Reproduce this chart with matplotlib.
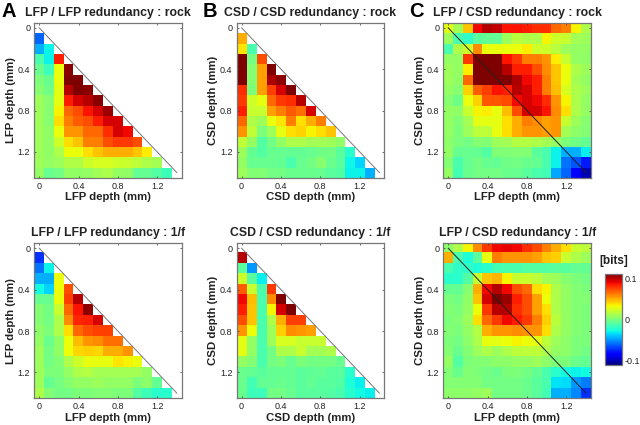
import numpy as np
import matplotlib
matplotlib.use('Agg')
import matplotlib.pyplot as plt

plt.rcParams['font.family'] = ['Liberation Sans', 'DejaVu Sans']

# redundancy per depth pair, in colour-scale units (100 = top colour of the bar)
lfp_lfp_rock = [
    [],
    [-55],
    [-40, -27],
    [-12, -27, 75],
    [-5, -15, 27, 98],
    [0, -5, 27, 100, 100],
    [3, -3, 25, 90, 100, 98],
    [8, 3, 25, 75, 85, 90, 98],
    [8, 3, 30, 60, 65, 78, 85, 95],
    [8, 3, 35, 55, 62, 65, 75, 85, 85],
    [8, 5, 27, 50, 50, 60, 60, 72, 85, 80],
    [8, 5, 20, 35, 40, 55, 55, 65, 70, 70, 65],
    [8, 5, 12, 28, 27, 35, 40, 45, 45, 45, 40, 32],
    [8, 6, 8, 13, 13, 20, 22, 22, 20, 18, 16, 12, 10],
    [6, -5, -2, 6, 5, 6, 10, 12, 6, 5, -6, -6, -10, -15],
]
csd_csd_rock = [
    [],
    [45],
    [33, -12],
    [100, -1, 65],
    [100, 3, 48, 100],
    [100, 3, 48, 92, 97],
    [72, 0, 48, 68, 85, 100],
    [70, 20, 26, 60, 70, 72, 90],
    [75, 18, 18, 48, 55, 63, 58, 85],
    [60, 12, 8, 27, 33, 55, 35, 45, 55],
    [50, 17, 0, 8, 25, 35, 37, 30, 35, 40],
    [17, 7, -10, -2, 6, 12, 12, 10, 10, 8, 5],
    [8, -6, -10, -5, -5, -6, -6, -5, -3, -2, -8, -20],
    [6, -5, -5, -5, -6, -12, -5, -2, 3, -4, -8, -26, -33],
    [8, 2, 2, -2, -2, -4, -4, -4, -5, -8, -10, -27, -27, -40],
]
lfp_csd_rock = [
    [25, 10, 40, 80, 90, 88, 78, 78, 75, 72, 72, 60, 55, 30, 12],
    [8, -12, -18, -8, -6, -6, 8, 15, 12, 12, 30, 20, 18, 10, 8],
    [-12, 12, 20, 52, 27, 27, 27, 27, 32, 20, 20, 15, 8, 6, 6],
    [6, 6, 70, 100, 100, 100, 78, 70, 55, 55, 50, 32, 18, 6, 5],
    [8, 6, 32, 100, 100, 100, 90, 75, 75, 65, 52, 40, 27, 12, 8],
    [8, 5, 60, 100, 100, 100, 100, 92, 80, 75, 55, 40, 27, 10, 6],
    [6, 3, 37, 62, 68, 78, 75, 90, 85, 75, 55, 42, 22, 12, 8],
    [3, -3, 27, 37, 64, 64, 66, 80, 85, 80, 72, 50, 30, 12, 6],
    [6, 5, 18, 30, 32, 26, 42, 65, 85, 85, 78, 52, 35, 12, 6],
    [6, 2, 10, 25, 25, 25, 35, 45, 55, 52, 48, 50, 18, 8, 3],
    [6, 0, 8, 16, 16, 26, 35, 45, 50, 50, 48, 50, 10, 4, 2],
    [4, 0, -2, 3, 2, 8, 10, 14, 14, 12, 10, 6, 0, -3, -6],
    [6, -5, -5, -6, -10, 1, 1, 2, 2, -8, -12, -27, -40, -40, -28],
    [2, -12, -5, -2, -5, -6, -3, -2, -4, -6, -12, -27, -52, -58, -70],
    [6, -14, -4, -2, -2, -2, -4, -5, -8, -12, -14, -42, -55, -75, -90],
]
lfp_lfp_1f = [
    [],
    [-65],
    [-52, -27],
    [-40, -40, 28],
    [-25, -33, 28, 65],
    [-5, -5, 27, 68, 90],
    [2, -2, 18, 60, 78, 97],
    [2, -2, 12, 52, 74, 75, 85],
    [4, 0, 12, 35, 60, 65, 68, 68],
    [6, -4, 5, 28, 42, 50, 52, 58, 58],
    [8, -2, 5, 28, 36, 38, 36, 45, 45, 50],
    [8, -2, 2, 12, 20, 26, 26, 26, 33, 30, 27],
    [8, 0, 0, 6, 12, 14, 10, 10, 10, 10, 10, 6],
    [8, -6, -1, 3, 6, 6, 8, 6, 6, 6, 0, 4, -6],
    [12, 2, -2, -2, 0, 0, 2, 2, 0, 0, -10, -15, -20, -20],
]
csd_csd_1f = [
    [],
    [90],
    [-8, -45],
    [20, -8, -28],
    [62, 18, -12, 70],
    [80, 42, -12, 52, 100],
    [75, 40, -12, 30, 85, 100],
    [65, 40, -12, 12, 45, 68, 68],
    [50, 28, -12, 8, 38, 52, 50, 48],
    [25, 6, -12, 8, 22, 22, 18, 18, 18],
    [25, 6, -12, -2, 12, 12, 18, 10, 10, 12],
    [6, 2, -12, -2, 0, -5, 0, -2, -2, -2, -5],
    [-4, -6, -8, -6, -6, -6, -8, -7, -6, -8, -8, -20],
    [-4, -14, -6, -6, -4, -6, -8, -6, -8, -8, -10, -22, -28],
    [-4, -15, -15, -2, -2, -5, -8, -8, -8, -10, -12, -20, -25, -28],
]
lfp_csd_1f = [
    [4, 12, 30, 52, 70, 80, 82, 80, 72, 66, 55, 45, 35, 18, 16],
    [45, -12, -22, -8, 26, 55, 50, 50, 50, 48, 40, 38, 18, 12, 8],
    [-12, -18, -18, -22, -20, -14, -12, -12, -10, -10, -10, -8, -8, -6, -6],
    [-20, -20, -10, 18, 40, 43, 30, 18, 18, 16, 10, 8, 3, 0, -2],
    [-6, -6, 3, 45, 80, 90, 80, 65, 60, 35, 30, 12, 6, 2, 0],
    [0, -2, 5, 40, 85, 100, 95, 75, 65, 48, 28, 12, 6, 2, 2],
    [2, 0, 6, 28, 70, 90, 90, 72, 65, 48, 35, 12, 6, 2, 0],
    [0, 2, 8, 35, 60, 70, 80, 76, 70, 55, 38, 15, 6, 2, 0],
    [2, 0, 6, 14, 45, 50, 50, 52, 50, 50, 35, 12, 6, 2, 0],
    [0, -2, 4, 12, 26, 25, 28, 30, 28, 25, 16, 8, 4, 0, 0],
    [2, -4, 2, 8, 12, 8, 12, 16, 16, 16, 12, 6, 4, 0, -2],
    [6, -10, 0, 2, 2, 4, 4, 6, 6, 8, 4, 0, 0, -4, -6],
    [2, -4, 2, 0, -2, -4, 0, 0, -2, -6, -12, -20, -25, -27, -25],
    [2, 2, 2, 2, -2, -2, -2, -2, -4, -8, -12, -30, -32, -45, -50],
    [4, 4, 4, 6, 8, -2, -2, -2, -4, -8, -14, -40, -40, -48, -65],
]

depth_ticks = [0, 0.4, 0.8, 1.2]
depth_labels = ['0', '0.4', '0.8', '1.2']
cbar_ticks = [-0.1, 0, 0.1]
cbar_labels = ['-0.1', '0', '0.1']
vmax = 0.112
W, H = 640.0, 425.0
EDGE = '#777777'
TXT = '#222222'


def to_matrix(rows):
    m = np.full((15, 15), np.nan)
    for i, r in enumerate(rows):
        m[i, :len(r)] = r
    # table is read against a scale where 100 is the top colour
    return np.ma.masked_invalid(m * vmax / 100.0)


def panel(box, rows, title, xlab, ylab, diag_color):
    x0, y0, x1, y1 = box
    ax = fig.add_axes([x0 / W, 1 - y1 / H, (x1 - x0) / W, (y1 - y0) / H])
    im = ax.imshow(to_matrix(rows), cmap='jet', vmin=-vmax, vmax=vmax, aspect='auto',
                   extent=[-0.05, 1.45, 1.45, -0.05], interpolation='nearest')
    ax.plot([0, 1.4], [0, 1.4], color=diag_color, lw=0.7)
    ax.set_xlim(-0.05, 1.45)
    ax.set_ylim(1.45, -0.05)
    ax.set_xticks(depth_ticks, depth_labels)
    ax.set_yticks(depth_ticks, depth_labels)
    ax.tick_params(direction='in', length=1.5, width=0.5, color='#333333', labelsize=6.5,
                   labelcolor=TXT, pad=3, top=True, right=True)
    for s in ax.spines.values():
        s.set_color(EDGE)
        s.set_linewidth(0.9)
    ax.set_xlabel(xlab, fontsize=8.2, fontweight='bold', color=TXT)
    ax.set_ylabel(ylab, fontsize=8.2, fontweight='bold', color=TXT)
    ax.xaxis.set_label_coords(0.5, -0.095)
    ax.yaxis.set_label_coords(-0.125, 0.5)
    ax.set_title(title, fontsize=8.8, fontweight='bold', color=TXT, pad=5)
    return im


fig = plt.figure(figsize=(6.4, 4.25), dpi=100)

top = (22.7, 177.7)
bot = (243.0, 398.3)
col_a = (34.3, 181.7)
col_b = (236.7, 384.3)
col_c = (443.3, 591.0)

panel((col_a[0], top[0], col_a[1], top[1]), lfp_lfp_rock, 'LFP / LFP redundancy : rock', 'LFP depth (mm)', 'LFP depth (mm)', '#777777')
panel((col_b[0], top[0], col_b[1], top[1]), csd_csd_rock, 'CSD / CSD redundancy : rock', 'CSD depth (mm)', 'CSD depth (mm)', '#777777')
panel((col_c[0], top[0], col_c[1], top[1]), lfp_csd_rock, 'LFP / CSD redundancy : rock', 'LFP depth (mm)', 'CSD depth (mm)', '#222222')
panel((col_a[0], bot[0], col_a[1], bot[1]), lfp_lfp_1f, 'LFP / LFP redundancy : 1/f', 'LFP depth (mm)', 'LFP depth (mm)', '#777777')
panel((col_b[0], bot[0], col_b[1], bot[1]), csd_csd_1f, 'CSD / CSD redundancy : 1/f', 'CSD depth (mm)', 'CSD depth (mm)', '#777777')
im = panel((col_c[0], bot[0], col_c[1], bot[1]), lfp_csd_1f, 'LFP / CSD redundancy : 1/f', 'LFP depth (mm)', 'CSD depth (mm)', '#222222')

cax = fig.add_axes([605.3 / W, 1 - 365.0 / H, 17.0 / W, 91.3 / H])
cb = fig.colorbar(im, cax=cax, ticks=cbar_ticks)
cb.ax.set_yticklabels(cbar_labels)
cb.ax.tick_params(length=0, labelsize=6.5, labelcolor=TXT, pad=2)
cb.outline.set_edgecolor(EDGE)
cb.outline.set_linewidth(0.9)
fig.text(614 / W, 1 - 264 / H, '[bits]', fontsize=8.5, fontweight='bold', color=TXT, ha='center', va='baseline')

for letter, px in zip(['A', 'B', 'C'], [2, 203, 409]):
    fig.text(px / W, 1 - 17 / H, letter, fontsize=14.5, fontweight='bold', color='black', ha='left', va='baseline')

fig.savefig('out.png', dpi=100)
